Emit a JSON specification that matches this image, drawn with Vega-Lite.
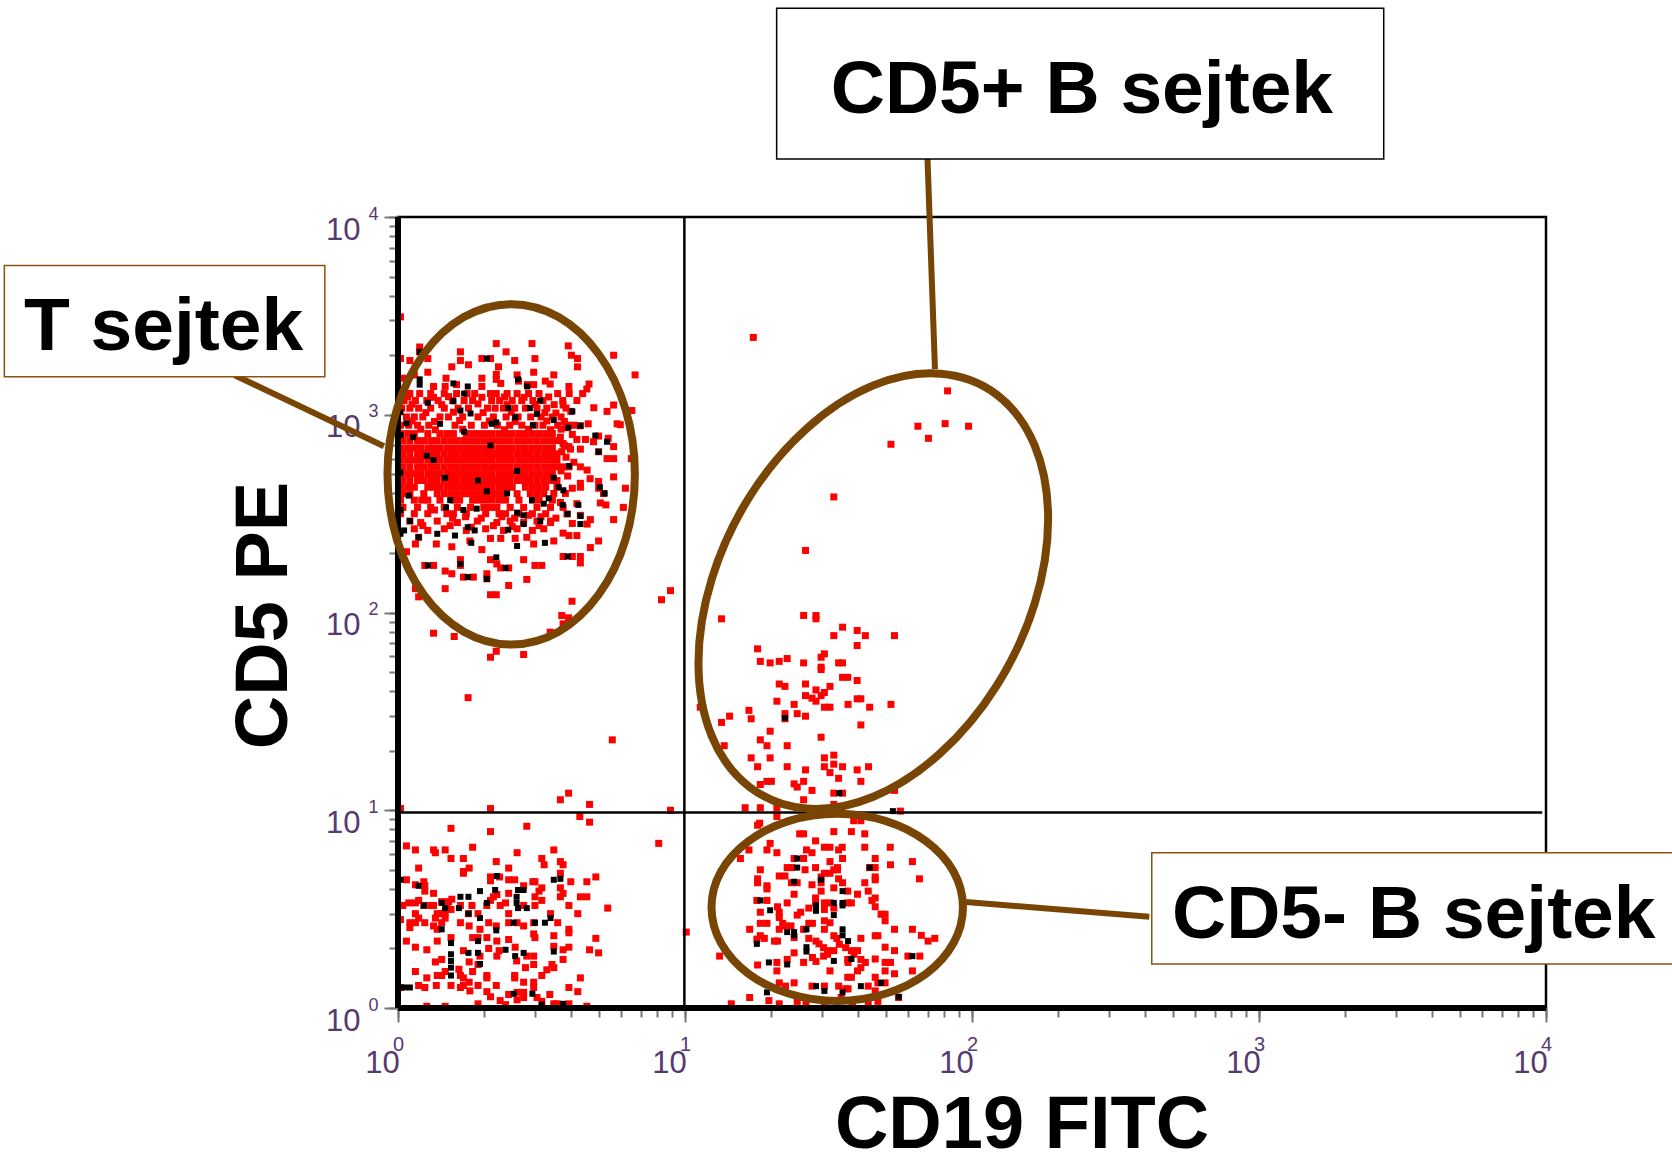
{"$schema":"https://vega.github.io/schema/vega-lite/v6.json","width":1148,"height":791,"autosize":{"type":"none"},"padding":{"left":398,"top":217,"right":126,"bottom":152},"background":"white","config":{"view":{"stroke":"#000","strokeWidth":2.5},"font":"Liberation Sans"},
"datasets":{
"red":[
{"x":1.02,"y":10.2},{"x":2.1,"y":10.2},{"x":2.81,"y":8.3},{"x":2.1,"y":7.8},{"x":1.53,"y":8.1},{"x":3.68,"y":11.3},{"x":3.93,"y":12.2},{"x":4.65,"y":10.7},{"x":4.3,"y":9.3},{"x":4.65,"y":8.7},{"x":8.9,"y":10},{"x":8.1,"y":6.8},{"x":1.07,"y":6.6},{"x":1.15,"y":6.3},{"x":1.33,"y":6.3},{"x":1.35,"y":6.1},{"x":1.46,"y":6.3},{"x":1.82,"y":6.5},{"x":1.53,"y":5.7},{"x":1.69,"y":5.7},{"x":2.6,"y":6.1},{"x":2.2,"y":5.5},{"x":3.49,"y":6.3},{"x":3.17,"y":5.7},{"x":3.23,"y":5.3},{"x":3.68,"y":5.5},{"x":3.76,"y":5.3},{"x":2.43,"y":5.1},{"x":1.18,"y":5.1},{"x":1.77,"y":5.1},{"x":1.69,"y":4.9},{"x":1.69,"y":4.8},{"x":3.68,"y":4.8},{"x":4.89,"y":4.6},{"x":4,"y":4.35},{"x":4.55,"y":4.35},{"x":2.1,"y":4.6},{"x":2.26,"y":4.6},{"x":2.43,"y":4.45},{"x":2.55,"y":4.45},{"x":1.07,"y":4.45},{"x":2.1,"y":4.4},{"x":2.95,"y":4.35},{"x":3,"y":4.35},{"x":1.23,"y":4.35},{"x":1.24,"y":4.15},{"x":1.15,"y":4.2},{"x":2.74,"y":4.15},{"x":3.17,"y":4.05},{"x":3.68,"y":4.05},{"x":3.1,"y":3.9},{"x":3.76,"y":3.8},{"x":3.68,"y":3.65},{"x":4.32,"y":3.65},{"x":4.55,"y":3.65},{"x":3.17,"y":3.5},{"x":1.33,"y":3.8},{"x":1.24,"y":3.9},{"x":2.43,"y":3.8},{"x":3,"y":3.65},{"x":3.94,"y":3.3},{"x":5.38,"y":3.2},{"x":4.23,"y":3},{"x":1.04,"y":3.3},{"x":1.09,"y":3.4},{"x":1.15,"y":3.4},{"x":1.18,"y":3.5},{"x":1.23,"y":3.3},{"x":1.3,"y":3.3},{"x":1.33,"y":3.3},{"x":1.42,"y":3.45},{"x":1.5,"y":3.45},{"x":1.54,"y":3.55},{"x":1.48,"y":3.3},{"x":1.65,"y":3.3},{"x":1.53,"y":3.15},{"x":1.46,"y":3.05},{"x":1.42,"y":3},{"x":1.37,"y":3},{"x":1.35,"y":2.85},{"x":1.46,"y":2.85},{"x":1.42,"y":2.7},{"x":1.81,"y":3.3},{"x":2.15,"y":3.65},{"x":2.21,"y":3.75},{"x":2.1,"y":3.5},{"x":2.04,"y":3.3},{"x":2.27,"y":3.3},{"x":2.37,"y":3.4},{"x":2.74,"y":3.3},{"x":3,"y":3.3},{"x":1.02,"y":2.8},{"x":1.15,"y":3},{"x":1.18,"y":2.85},{"x":1.1,"y":2.7},{"x":1.1,"y":2.55},{"x":1.15,"y":2.7},{"x":1.24,"y":2.7},{"x":1.33,"y":2.6},{"x":1.37,"y":2.5},{"x":1.65,"y":2.7},{"x":1.77,"y":2.6},{"x":1.76,"y":3},{"x":1.9,"y":3},{"x":2.07,"y":2.7},{"x":2.43,"y":3},{"x":2.43,"y":2.7},{"x":2.6,"y":2.7},{"x":2.74,"y":2.6},{"x":3.6,"y":2.7},{"x":3.4,"y":3},{"x":2.97,"y":2.7},{"x":2.2,"y":2.6},{"x":1.93,"y":2.5},{"x":1.9,"y":2.27},{"x":2.04,"y":2.27},{"x":1.82,"y":2.27},{"x":1.53,"y":2.27},{"x":1.37,"y":2.18},{"x":1.07,"y":2.18},{"x":1.15,"y":2.03},{"x":1.26,"y":1.97},{"x":2.97,"y":2.37},{"x":3,"y":2.27},{"x":3.49,"y":2.32},{"x":3.94,"y":2.5},{"x":3.94,"y":2.4},{"x":4.89,"y":2.25},{"x":2.21,"y":2.18},{"x":2.43,"y":2.22},{"x":2.56,"y":2.03},{"x":2.07,"y":2},{"x":2.25,"y":1.95},{"x":1.69,"y":1.95},{"x":3.49,"y":2.05},{"x":3.94,"y":2.03},{"x":3.76,"y":1.97},{"x":4.65,"y":1.97},{"x":5,"y":1.9},{"x":2.21,"y":1.83},{"x":2.59,"y":1.73},{"x":2.81,"y":1.83},{"x":2.97,"y":1.83},{"x":3.76,"y":1.76},{"x":1.93,"y":1.83},{"x":1.9,"y":1.66},{"x":1.77,"y":1.71},{"x":1.42,"y":1.76},{"x":1.35,"y":1.71},{"x":2.78,"y":1.6},{"x":2.97,"y":1.66},{"x":3.44,"y":1.66},{"x":3.49,"y":1.6},{"x":1.15,"y":1.53},{"x":1.26,"y":1.42},{"x":1.37,"y":1.46},{"x":1.42,"y":1.46},{"x":1.46,"y":1.53},{"x":1.63,"y":1.57},{"x":1.65,"y":1.46},{"x":1.69,"y":1.42},{"x":1.82,"y":1.53},{"x":2.04,"y":1.46},{"x":2.04,"y":1.42},{"x":2.55,"y":1.46},{"x":2.55,"y":1.42},{"x":3.17,"y":1.46},{"x":3.3,"y":1.56},{"x":4.32,"y":1.42},{"x":1.02,"y":1.27},{"x":1.18,"y":1.3},{"x":1.24,"y":1.27},{"x":1.36,"y":1.3},{"x":1.53,"y":1.3},{"x":1.65,"y":1.27},{"x":1.69,"y":1.3},{"x":1.77,"y":1.35},{"x":1.78,"y":1.22},{"x":1.9,"y":1.3},{"x":2.2,"y":1.3},{"x":2.74,"y":1.35},{"x":2.97,"y":1.35},{"x":2.97,"y":1.27},{"x":3.94,"y":1.27},{"x":4.23,"y":1.21},{"x":3.38,"y":1.17},{"x":2.04,"y":1.21},{"x":2.1,"y":1.14},{"x":2.27,"y":1.09},{"x":2.43,"y":1.17},{"x":2.6,"y":1.2},{"x":2.74,"y":1.2},{"x":2.74,"y":1.13},{"x":2.6,"y":1.1},{"x":2.37,"y":1.04},{"x":1.9,"y":1.05},{"x":1.26,"y":1.02},{"x":1.46,"y":1.02},{"x":3.05,"y":1.13},{"x":3.17,"y":1.08},{"x":3.49,"y":1.05},{"x":3.58,"y":1.05},{"x":3.94,"y":1.05},{"x":4.55,"y":1.02},
{"x":16.2,"y":10.3},{"x":18.3,"y":10.3},{"x":20.9,"y":10.3},{"x":20.9,"y":9.3},{"x":18.2,"y":8.6},{"x":17.9,"y":8.4},{"x":56.3,"y":9.9},{"x":38.7,"y":8.85},{"x":41,"y":8.85},{"x":25.1,"y":7.6},{"x":25.9,"y":7.6},{"x":33,"y":7.8},{"x":38,"y":7.8},{"x":42.3,"y":7.6},{"x":28.5,"y":7},{"x":30.6,"y":6.5},{"x":32,"y":6.5},{"x":35.3,"y":6.5},{"x":34.3,"y":6.3},{"x":42.3,"y":6.5},{"x":51.9,"y":6.5},{"x":19.8,"y":6.8},{"x":19.3,"y":6.3},{"x":20.9,"y":6.1},{"x":16.7,"y":6.3},{"x":15.6,"y":5.7},{"x":26.5,"y":6.3},{"x":27.7,"y":6.1},{"x":24,"y":5.7},{"x":25.9,"y":5.7},{"x":35.4,"y":5.7},{"x":32,"y":5.5},{"x":46,"y":5.7},{"x":62,"y":5.5},{"x":52,"y":5.3},{"x":65.6,"y":4.5},{"x":18.3,"y":5},{"x":22.7,"y":5.13},{"x":23.5,"y":5.13},{"x":26.2,"y":5},{"x":28.5,"y":5.13},{"x":34,"y":5.13},{"x":33,"y":5},{"x":34,"y":5},{"x":32,"y":4.8},{"x":30.6,"y":4.8},{"x":29.8,"y":4.6},{"x":46,"y":5.13},{"x":44,"y":5.13},{"x":46,"y":4.6},{"x":46,"y":4.45},{"x":17.9,"y":4.5},{"x":17.9,"y":4.3},{"x":21.3,"y":4.65},{"x":22.3,"y":4.65},{"x":23.5,"y":4.3},{"x":24.6,"y":4.3},{"x":19.3,"y":4.15},{"x":19.3,"y":4},{"x":27.7,"y":4.2},{"x":29.8,"y":4.3},{"x":34.3,"y":4.5},{"x":35.4,"y":4.3},{"x":33,"y":4.05},{"x":29.8,"y":3.9},{"x":24,"y":3.76},{"x":36.9,"y":3.9},{"x":39.9,"y":3.76},{"x":42.3,"y":4.3},{"x":43.5,"y":3.9},{"x":46,"y":3.6},{"x":44.8,"y":3.5},{"x":46,"y":3.25},{"x":17.8,"y":3.5},{"x":19.3,"y":3.5},{"x":22.7,"y":3.4},{"x":28.5,"y":3.6},{"x":28.5,"y":3.4},{"x":30.6,"y":3.4},{"x":32,"y":3.4},{"x":38,"y":3.4},{"x":36.9,"y":3.4},{"x":27,"y":3.2},{"x":25.3,"y":3.05},{"x":24.6,"y":2.95},{"x":18.3,"y":3.05},{"x":21,"y":3.25},{"x":21.3,"y":3.05},{"x":30.6,"y":3.15},{"x":33,"y":3.2},{"x":48.2,"y":2.98},{"x":49.8,"y":2.98},{"x":49.8,"y":2.76},{"x":30.6,"y":2.76},{"x":32,"y":2.7},{"x":21.3,"y":2.87},{"x":21.9,"y":2.68},{"x":18.3,"y":2.68},{"x":19.3,"y":2.68},{"x":27,"y":2.68},{"x":27.8,"y":2.68},{"x":22.4,"y":2.6},{"x":23.4,"y":2.6},{"x":16.8,"y":2.5},{"x":21.3,"y":2.5},{"x":25.9,"y":2.5},{"x":30.6,"y":2.5},{"x":53.7,"y":2.5},{"x":62,"y":2.5},{"x":10.1,"y":2.42},{"x":18.3,"y":2.32},{"x":33,"y":2.32},{"x":33.8,"y":2.25},{"x":24,"y":2.27},{"x":46,"y":2.32},{"x":47,"y":2.32},{"x":41,"y":2.25},{"x":66.6,"y":2.33},{"x":70.3,"y":2.18},{"x":74.2,"y":2.25},{"x":18.9,"y":2.25},{"x":20.5,"y":2.18},{"x":21,"y":2.18},{"x":27,"y":2.25},{"x":28.6,"y":2.18},{"x":17.8,"y":2.23},{"x":29.3,"y":2.11},{"x":30.4,"y":2.02},{"x":31.4,"y":1.95},{"x":33,"y":1.95},{"x":34.5,"y":2.1},{"x":36.3,"y":2.02},{"x":38,"y":1.95},{"x":39.9,"y":1.95},{"x":38.8,"y":1.87},{"x":49.8,"y":2.03},{"x":53.7,"y":1.95},{"x":24,"y":1.9},{"x":30.4,"y":1.83},{"x":31.4,"y":1.87},{"x":13.2,"y":1.83},{"x":36.9,"y":1.76},{"x":41,"y":1.76},{"x":46,"y":1.77},{"x":42.5,"y":1.7},{"x":27.8,"y":1.8},{"x":28.6,"y":1.72},{"x":25.9,"y":1.7},{"x":49.8,"y":1.7},{"x":52,"y":1.7},{"x":65.8,"y":1.83},{"x":59.8,"y":1.83},{"x":20.9,"y":1.7},{"x":17.9,"y":1.65},{"x":22.7,"y":1.76},{"x":37,"y":1.7},{"x":41,"y":1.6},{"x":39.9,"y":1.54},{"x":32,"y":1.54},{"x":20.9,"y":1.54},{"x":49.8,"y":1.54},{"x":62,"y":1.54},{"x":53.7,"y":1.49},{"x":36.9,"y":1.43},{"x":38,"y":1.43},{"x":46,"y":1.43},{"x":21.3,"y":1.34},{"x":22.4,"y":1.29},{"x":24,"y":1.34},{"x":27.7,"y":1.29},{"x":30.6,"y":1.29},{"x":34.3,"y":1.29},{"x":37,"y":1.25},{"x":36.3,"y":1.25},{"x":43.5,"y":1.29},{"x":49.8,"y":1.34},{"x":47,"y":1.34},{"x":46,"y":1.22},{"x":16.8,"y":1.13},{"x":14.5,"y":1.05},{"x":19.6,"y":1.09},{"x":21.3,"y":1.05},{"x":24.6,"y":1.08},{"x":26.4,"y":1.04},{"x":30.6,"y":1.06},{"x":35,"y":1.13},{"x":38.3,"y":1.04},{"x":43.5,"y":1.04},{"x":47,"y":1.08},{"x":55.5,"y":1.13},
{"x":17.3,"y":2460},{"x":82.2,"y":1320},{"x":64.8,"y":875},{"x":80.6,"y":902},{"x":97.3,"y":875},{"x":70.5,"y":760},{"x":52.2,"y":709},{"x":33,"y":384},{"x":26.3,"y":206},{"x":13.4,"y":92.9},{"x":25.9,"y":96.6},{"x":28.6,"y":96.6},{"x":28.6,"y":92.9},{"x":35.4,"y":84.3},{"x":39.8,"y":81.1},{"x":33,"y":76.4},{"x":42.5,"y":76.4},{"x":53.7,"y":76.4},{"x":39.8,"y":68.1},{"x":17.9,"y":65.5},{"x":30.6,"y":61.8},{"x":29.8,"y":59.4},{"x":18.3,"y":56.6},{"x":19.8,"y":55.6},{"x":21.3,"y":56.6},{"x":22.7,"y":58.5},{"x":25.9,"y":55.6},{"x":34.3,"y":55.6},{"x":35.4,"y":55.6},{"x":29.8,"y":52.9},{"x":29.8,"y":51.5},{"x":35.4,"y":47},{"x":36.9,"y":47},{"x":39.8,"y":45.3},{"x":21.3,"y":43.5},{"x":22.3,"y":42.3},{"x":26.3,"y":43.5},{"x":32,"y":42.3},{"x":28.6,"y":40.6},{"x":30.6,"y":39.4},{"x":29.8,"y":38},{"x":26.3,"y":38},{"x":27.7,"y":36.9},{"x":28.6,"y":35.6},{"x":39.8,"y":36.6},{"x":41,"y":36.6},{"x":20.9,"y":35.6},{"x":24,"y":34.3},{"x":37,"y":34.3},{"x":52.2,"y":34.3},{"x":30.6,"y":33.2},{"x":32,"y":33.2},{"x":44,"y":33.2},{"x":11.3,"y":33.2},{"x":16.7,"y":32},{"x":14.3,"y":29.9},{"x":24.6,"y":30.8},{"x":22.3,"y":30.8},{"x":26.3,"y":29.9},{"x":17,"y":29},{"x":22.3,"y":29},{"x":13.4,"y":27.8},{"x":41,"y":27},{"x":19.8,"y":25.1},{"x":18.3,"y":22.7},{"x":29.8,"y":23.4},{"x":13.7,"y":21.2},{"x":19.3,"y":21.2},{"x":22.7,"y":21.2},{"x":17,"y":18.4},{"x":19.8,"y":18.4},{"x":30.6,"y":18.4},{"x":33,"y":19},{"x":17.9,"y":16.6},{"x":22.7,"y":16.6},{"x":30.6,"y":16.6},{"x":33,"y":17.1},{"x":35.4,"y":16.6},{"x":26.3,"y":16},{"x":39.8,"y":16},{"x":43.6,"y":16.6},{"x":32,"y":15.5},{"x":34.3,"y":14.5},{"x":41,"y":14},{"x":18.3,"y":13.5},{"x":19.3,"y":14},{"x":20,"y":14},{"x":24,"y":13.6},{"x":24.6,"y":13.1},{"x":25.9,"y":14},{"x":27.7,"y":12.6},{"x":33,"y":12.2},{"x":35.4,"y":12.2},{"x":25.9,"y":11.3},{"x":53.7,"y":12.6},{"x":33,"y":10.7},
{"x":5.58,"y":22.7},{"x":1.755,"y":37.1},{"x":8.9,"y":129},{"x":8.28,"y":116},{"x":1.33,"y":78.6},{"x":1.57,"y":75.6},{"x":2.2,"y":63.7},{"x":2.1,"y":59.4},{"x":2.74,"y":61.3},{"x":4.04,"y":114},{"x":3.72,"y":96.6},{"x":3.76,"y":87.6},{"x":3.93,"y":94},{"x":3.39,"y":79.5},{"x":1.18,"y":120},{"x":1.15,"y":132},
{"x":1.02,"y":3127},{"x":1.19,"y":2200},{"x":1.02,"y":1924},{"x":1.1,"y":1880},{"x":1.19,"y":2081},{"x":1.27,"y":1924},{"x":1.65,"y":2081},{"x":1.65,"y":1880},{"x":1.76,"y":1790},{"x":1.54,"y":1747},{"x":2.2,"y":2291},{"x":2.38,"y":2081},{"x":2.55,"y":1880},{"x":1.96,"y":1924},{"x":2.1,"y":1924},{"x":2.93,"y":2291},{"x":3,"y":1924},{"x":3.92,"y":2230},{"x":4.02,"y":2000},{"x":4.22,"y":1924},{"x":4.22,"y":1747},{"x":5.64,"y":2000},{"x":6.7,"y":1590},{"x":2.24,"y":1747},{"x":2.97,"y":1640},{"x":3.49,"y":1590},{"x":1.27,"y":1640},{"x":2.2,"y":1600},{"x":1.47,"y":1530},{"x":1.96,"y":1530},{"x":2.6,"y":1590},{"x":2.2,"y":1510},{"x":3.26,"y":1480},{"x":3.39,"y":1430},{"x":3.94,"y":1390},{"x":4.63,"y":1430},{"x":4.55,"y":1350},{"x":1.14,"y":1590},{"x":1.04,"y":1530},{"x":1.33,"y":1390},{"x":1.46,"y":1390},{"x":1.6,"y":1420},{"x":1.96,"y":1390},{"x":2.28,"y":1440},{"x":2.63,"y":1480},{"x":2.82,"y":1420},{"x":2.97,"y":1420},
{"x":1.1,"y":1280},{"x":1.19,"y":1280},{"x":1.3,"y":1280},{"x":1.45,"y":1280},{"x":1.6,"y":1280},{"x":1.74,"y":1280},{"x":1.85,"y":1280},{"x":2.1,"y":1280},{"x":2.2,"y":1280},{"x":2.4,"y":1280},{"x":2.6,"y":1280},{"x":2.85,"y":1280},{"x":3.1,"y":1280},{"x":3.6,"y":1280},{"x":3.95,"y":1280},{"x":4.4,"y":1280},
{"x":1.05,"y":1180},{"x":1.15,"y":1180},{"x":1.26,"y":1180},{"x":1.38,"y":1180},{"x":1.55,"y":1180},{"x":1.7,"y":1180},{"x":1.82,"y":1180},{"x":2.12,"y":1180},{"x":2.26,"y":1180},{"x":2.5,"y":1180},{"x":2.7,"y":1180},{"x":2.95,"y":1180},{"x":3.2,"y":1180},{"x":3.75,"y":1180},{"x":4.2,"y":1180},
{"x":1.03,"y":1080},{"x":1.1,"y":1080},{"x":1.18,"y":1080},{"x":1.3,"y":1080},{"x":1.45,"y":1080},{"x":1.62,"y":1080},{"x":1.76,"y":1080},{"x":2.05,"y":1080},{"x":2.18,"y":1080},{"x":2.33,"y":1080},{"x":2.55,"y":1080},{"x":2.78,"y":1080},{"x":3.05,"y":1080},{"x":3.3,"y":1080},{"x":3.85,"y":1080},
{"x":1.07,"y":975},{"x":1.14,"y":975},{"x":1.22,"y":975},{"x":1.4,"y":975},{"x":1.5,"y":975},{"x":1.68,"y":975},{"x":1.9,"y":975},{"x":2.15,"y":975},{"x":2.38,"y":975},{"x":2.62,"y":975},{"x":2.9,"y":975},{"x":3.15,"y":975},{"x":3.45,"y":975},{"x":3.7,"y":975},
{"x":1.02,"y":885},{"x":1.09,"y":885},{"x":1.17,"y":885},{"x":1.28,"y":885},{"x":1.58,"y":885},{"x":1.8,"y":885},{"x":2,"y":885},{"x":2.22,"y":885},{"x":2.45,"y":885},{"x":2.7,"y":885},{"x":3,"y":885},{"x":3.2,"y":885},{"x":3.6,"y":885},{"x":3.95,"y":885},{"x":4.1,"y":885},
{"x":1.02,"y":803},{"x":1.08,"y":803},{"x":1.14,"y":803},{"x":1.27,"y":803},{"x":1.4,"y":803},{"x":1.48,"y":803},{"x":1.56,"y":803},{"x":1.73,"y":803},{"x":1.82,"y":803},{"x":1.92,"y":803},{"x":2.02,"y":803},{"x":2.13,"y":803},{"x":2.25,"y":803},{"x":2.37,"y":803},{"x":2.5,"y":803},{"x":2.64,"y":803},{"x":2.78,"y":803},{"x":2.94,"y":803},{"x":3.1,"y":803},{"x":3.27,"y":803},{"x":3.45,"y":803},
{"x":1.04,"y":740},{"x":1.1,"y":740},{"x":1.17,"y":740},{"x":1.23,"y":740},{"x":1.3,"y":740},{"x":1.37,"y":740},{"x":1.45,"y":740},{"x":1.53,"y":740},{"x":1.61,"y":740},{"x":1.7,"y":740},{"x":1.79,"y":740},{"x":1.89,"y":740},{"x":1.99,"y":740},{"x":2.1,"y":740},{"x":2.21,"y":740},{"x":2.33,"y":740},{"x":2.46,"y":740},{"x":2.6,"y":740},{"x":2.74,"y":740},{"x":2.89,"y":740},{"x":3.05,"y":740},{"x":3.22,"y":740},{"x":3.4,"y":740},{"x":3.58,"y":740},
{"x":1.02,"y":680},{"x":1.08,"y":680},{"x":1.14,"y":680},{"x":1.2,"y":680},{"x":1.27,"y":680},{"x":1.33,"y":680},{"x":1.4,"y":680},{"x":1.48,"y":680},{"x":1.56,"y":680},{"x":1.64,"y":680},{"x":1.73,"y":680},{"x":1.82,"y":680},{"x":1.92,"y":680},{"x":2.02,"y":680},{"x":2.13,"y":680},{"x":2.25,"y":680},{"x":2.37,"y":680},{"x":2.5,"y":680},{"x":2.64,"y":680},{"x":2.78,"y":680},{"x":2.94,"y":680},{"x":3.1,"y":680},{"x":3.27,"y":680},{"x":3.45,"y":680},
{"x":1.04,"y":635},{"x":1.1,"y":635},{"x":1.17,"y":635},{"x":1.23,"y":635},{"x":1.3,"y":635},{"x":1.37,"y":635},{"x":1.45,"y":635},{"x":1.53,"y":635},{"x":1.61,"y":635},{"x":1.7,"y":635},{"x":1.79,"y":635},{"x":1.89,"y":635},{"x":1.99,"y":635},{"x":2.1,"y":635},{"x":2.21,"y":635},{"x":2.33,"y":635},{"x":2.46,"y":635},{"x":2.6,"y":635},{"x":2.74,"y":635},{"x":2.89,"y":635},{"x":3.05,"y":635},{"x":3.22,"y":635},{"x":3.4,"y":635},{"x":3.58,"y":635},
{"x":1.02,"y":590},{"x":1.08,"y":590},{"x":1.14,"y":590},{"x":1.2,"y":590},{"x":1.27,"y":590},{"x":1.33,"y":590},{"x":1.4,"y":590},{"x":1.48,"y":590},{"x":1.56,"y":590},{"x":1.64,"y":590},{"x":1.73,"y":590},{"x":1.82,"y":590},{"x":1.92,"y":590},{"x":2.02,"y":590},{"x":2.13,"y":590},{"x":2.25,"y":590},{"x":2.37,"y":590},{"x":2.5,"y":590},{"x":2.64,"y":590},{"x":2.78,"y":590},{"x":2.94,"y":590},{"x":3.1,"y":590},{"x":3.27,"y":590},{"x":3.45,"y":590},
{"x":1.04,"y":545},{"x":1.1,"y":545},{"x":1.17,"y":545},{"x":1.23,"y":545},{"x":1.3,"y":545},{"x":1.37,"y":545},{"x":1.45,"y":545},{"x":1.53,"y":545},{"x":1.61,"y":545},{"x":1.7,"y":545},{"x":1.79,"y":545},{"x":1.89,"y":545},{"x":1.99,"y":545},{"x":2.1,"y":545},{"x":2.21,"y":545},{"x":2.33,"y":545},{"x":2.46,"y":545},{"x":2.6,"y":545},{"x":2.74,"y":545},{"x":2.89,"y":545},{"x":3.05,"y":545},{"x":3.22,"y":545},{"x":3.4,"y":545},{"x":3.58,"y":545},
{"x":1.02,"y":504},{"x":1.08,"y":504},{"x":1.14,"y":504},{"x":1.2,"y":504},{"x":1.27,"y":504},{"x":1.33,"y":504},{"x":1.4,"y":504},{"x":1.48,"y":504},{"x":1.56,"y":504},{"x":1.64,"y":504},{"x":1.73,"y":504},{"x":1.82,"y":504},{"x":1.92,"y":504},{"x":2.02,"y":504},{"x":2.13,"y":504},{"x":2.25,"y":504},{"x":2.37,"y":504},{"x":2.5,"y":504},{"x":2.64,"y":504},{"x":2.78,"y":504},{"x":2.94,"y":504},{"x":3.1,"y":504},{"x":3.27,"y":504},{"x":3.45,"y":504},
{"x":1.04,"y":465},{"x":1.1,"y":465},{"x":1.17,"y":465},{"x":1.23,"y":465},{"x":1.3,"y":465},{"x":1.37,"y":465},{"x":1.45,"y":465},{"x":1.53,"y":465},{"x":1.61,"y":465},{"x":1.7,"y":465},{"x":1.79,"y":465},{"x":1.89,"y":465},{"x":1.99,"y":465},{"x":2.1,"y":465},{"x":2.21,"y":465},{"x":2.33,"y":465},{"x":2.46,"y":465},{"x":2.6,"y":465},{"x":2.74,"y":465},{"x":2.89,"y":465},{"x":3.05,"y":465},{"x":3.22,"y":465},{"x":3.4,"y":465},
{"x":1.02,"y":430},{"x":1.08,"y":430},{"x":1.14,"y":430},{"x":1.27,"y":430},{"x":1.33,"y":430},{"x":1.4,"y":430},{"x":1.48,"y":430},{"x":1.56,"y":430},{"x":1.64,"y":430},{"x":1.73,"y":430},{"x":1.82,"y":430},{"x":1.92,"y":430},{"x":2.02,"y":430},{"x":2.13,"y":430},{"x":2.25,"y":430},{"x":2.37,"y":430},{"x":2.5,"y":430},{"x":2.78,"y":430},{"x":2.94,"y":430},{"x":3.1,"y":430},{"x":3.27,"y":430},
{"x":1.04,"y":399},{"x":1.1,"y":399},{"x":1.23,"y":399},{"x":1.37,"y":399},{"x":1.45,"y":399},{"x":1.53,"y":399},{"x":1.61,"y":399},{"x":1.7,"y":399},{"x":1.79,"y":399},{"x":1.89,"y":399},{"x":1.99,"y":399},{"x":2.1,"y":399},{"x":2.21,"y":399},{"x":2.33,"y":399},{"x":2.6,"y":399},{"x":2.89,"y":399},{"x":3.05,"y":399},{"x":3.22,"y":399},
{"x":1.02,"y":370},{"x":1.14,"y":370},{"x":1.27,"y":370},{"x":1.4,"y":370},{"x":1.56,"y":370},{"x":1.64,"y":370},{"x":1.82,"y":370},{"x":1.92,"y":370},{"x":2.02,"y":370},{"x":2.13,"y":370},{"x":2.25,"y":370},{"x":2.37,"y":370},{"x":2.64,"y":370},{"x":2.94,"y":370},{"x":3.1,"y":370},
{"x":1.04,"y":340},{"x":1.17,"y":340},{"x":1.3,"y":340},{"x":1.45,"y":340},{"x":1.61,"y":340},{"x":1.79,"y":340},{"x":1.99,"y":340},{"x":2.1,"y":340},{"x":2.21,"y":340},{"x":2.46,"y":340},{"x":2.74,"y":340},{"x":3.05,"y":340},{"x":3.4,"y":340},
{"x":1.02,"y":316},{"x":1.14,"y":316},{"x":1.27,"y":316},{"x":1.48,"y":316},{"x":1.56,"y":316},{"x":1.73,"y":316},{"x":2.02,"y":316},{"x":2.25,"y":316},{"x":2.37,"y":316},{"x":2.64,"y":316},{"x":2.94,"y":316},{"x":3.27,"y":316},
{"x":1.1,"y":290},{"x":1.2,"y":285},{"x":1.37,"y":290},{"x":1.61,"y":285},{"x":1.89,"y":290},{"x":2.21,"y":285},{"x":2.46,"y":290},{"x":2.74,"y":285},{"x":3.05,"y":290},{"x":3.4,"y":285},
{"x":1.14,"y":265},{"x":1.27,"y":260},{"x":1.45,"y":265},{"x":1.73,"y":260},{"x":2.02,"y":265},{"x":2.33,"y":260},{"x":2.6,"y":265},{"x":2.94,"y":260},{"x":3.22,"y":265},
{"x":1.08,"y":1230},{"x":1.33,"y":1225},{"x":1.5,"y":1235},{"x":1.96,"y":1225},{"x":2.35,"y":1230},{"x":2.75,"y":1225},{"x":3.35,"y":1230},{"x":1.12,"y":1130},{"x":1.42,"y":1125},{"x":1.9,"y":1135},{"x":2.4,"y":1125},{"x":3,"y":1130},{"x":3.5,"y":1125},{"x":1.25,"y":1025},{"x":1.56,"y":1030},{"x":1.98,"y":1025},{"x":2.48,"y":1030},{"x":3.25,"y":1025},{"x":3.55,"y":1020},{"x":1.12,"y":930},{"x":1.34,"y":925},{"x":1.64,"y":935},{"x":2.08,"y":930},{"x":2.56,"y":925},{"x":3.3,"y":930},{"x":3.8,"y":925},{"x":1.2,"y":845},{"x":1.35,"y":840},{"x":1.68,"y":845},{"x":2.35,"y":840},{"x":2.85,"y":845},{"x":3.4,"y":840},{"x":3.7,"y":845},{"x":3.68,"y":770},{"x":3.8,"y":700},{"x":3.72,"y":650},{"x":3.85,"y":610},{"x":3.7,"y":520},{"x":3.9,"y":490},{"x":3.58,"y":430},{"x":3.45,"y":370},{"x":1.21,"y":370},{"x":1.34,"y":330},{"x":1.55,"y":300},{"x":1.72,"y":305},{"x":1.95,"y":300},{"x":2.3,"y":305},{"x":2.55,"y":300},{"x":2.85,"y":310},{"x":3.15,"y":305},{"x":3.55,"y":300},{"x":1.22,"y":275},{"x":1.52,"y":275},{"x":1.8,"y":270},{"x":2.15,"y":275},{"x":2.5,"y":272},{"x":3.1,"y":275},
{"x":1.18,"y":240},{"x":1.15,"y":222},{"x":1.07,"y":203},{"x":1.36,"y":222},{"x":1.54,"y":215},{"x":1.78,"y":230},{"x":1.96,"y":208},{"x":2.1,"y":237},{"x":2.28,"y":237},{"x":2.56,"y":237},{"x":2.81,"y":240},{"x":2.97,"y":222},{"x":3.49,"y":230},{"x":3.76,"y":252},{"x":3.94,"y":245},{"x":4.2,"y":245},{"x":5,"y":230},{"x":4.68,"y":213},{"x":3.76,"y":192},{"x":4.05,"y":192},{"x":4.32,"y":192},{"x":4.32,"y":178},{"x":2.74,"y":185},{"x":2.1,"y":185},{"x":3,"y":173},{"x":3.17,"y":173},{"x":1.65,"y":185},{"x":1.65,"y":173},{"x":1.24,"y":173},{"x":1.33,"y":173},{"x":1.46,"y":162},{"x":1.54,"y":157},{"x":1.69,"y":151},{"x":1.83,"y":151},{"x":2.04,"y":157},{"x":2.04,"y":148},{"x":2.21,"y":176},{"x":2.28,"y":168},{"x":2.43,"y":168},{"x":2.43,"y":137},{"x":2.81,"y":147},{"x":1.46,"y":132},{"x":2.1,"y":123},{"x":2.2,"y":123},
{"x":4.81,"y":1085},{"x":5.35,"y":1040},{"x":5.64,"y":1120},{"x":6.53,"y":1050},{"x":5.95,"y":890},{"x":5.8,"y":900},{"x":4.32,"y":880},{"x":4.6,"y":900},{"x":4,"y":1040},{"x":3.76,"y":1120},{"x":5,"y":780},{"x":5.4,"y":760},{"x":5.64,"y":690},{"x":5.35,"y":600},{"x":5.64,"y":600},{"x":6.5,"y":600},{"x":5,"y":650},{"x":4.2,"y":750},{"x":4.5,"y":750},{"x":4.8,"y":730},{"x":4.32,"y":670},{"x":3.99,"y":670},{"x":4.1,"y":575},{"x":4.32,"y":545},{"x":4.56,"y":525},{"x":5.64,"y":485},{"x":4.67,"y":475},{"x":5,"y":460},{"x":6.2,"y":425},{"x":5,"y":425},{"x":5.2,"y":400},{"x":4.32,"y":450},{"x":4.05,"y":425},{"x":3.83,"y":400},{"x":4.2,"y":355},{"x":5.07,"y":358},{"x":5.3,"y":350},{"x":6.1,"y":340},{"x":5.64,"y":295},{"x":4.68,"y":295},{"x":4.32,"y":310},{"x":4.05,"y":282},{"x":3.76,"y":340},{"x":3.68,"y":360},{"x":3.88,"y":315},{"x":3.49,"y":400},{"x":3.58,"y":465},{"x":3.76,"y":545},{"x":3.94,"y":545},{"x":3.58,"y":590},{"x":3.94,"y":690},{"x":3.76,"y":715},{"x":4.05,"y":795},{"x":3.84,"y":860},{"x":4.32,"y":430},{"x":4.56,"y":280},{"x":3.4,"y":290}
],
"black":[
{"x":1.02,"y":4.45},{"x":1.18,"y":4.15},{"x":2.21,"y":4.65},{"x":3.49,"y":4.45},{"x":3.68,"y":4.5},{"x":1.93,"y":3.9},{"x":2.18,"y":3.95},{"x":2.62,"y":3.95},{"x":2.74,"y":3.95},{"x":2.59,"y":3.65},{"x":2.59,"y":3.4},{"x":2.62,"y":3.2},{"x":2.81,"y":3.2},{"x":1.65,"y":3.65},{"x":1.76,"y":3.65},{"x":1.42,"y":3.4},{"x":1.46,"y":3.2},{"x":1.63,"y":3.2},{"x":1.23,"y":3.3},{"x":2.04,"y":3.4},{"x":1.76,"y":3},{"x":1.93,"y":2.85},{"x":2.53,"y":2.7},{"x":3,"y":2.7},{"x":3.25,"y":2.7},{"x":3.4,"y":2.85},{"x":1.42,"y":2.5},{"x":2.2,"y":2.47},{"x":1.53,"y":2.13},{"x":1.9,"y":2.18},{"x":1.76,"y":1.9},{"x":1.9,"y":1.9},{"x":2.37,"y":1.97},{"x":2.56,"y":1.83},{"x":2.74,"y":1.9},{"x":3.49,"y":1.93},{"x":1.53,"y":1.87},{"x":1.53,"y":1.73},{"x":1.53,"y":1.6},{"x":1.53,"y":1.46},{"x":1.93,"y":1.67},{"x":1.05,"y":1.27},{"x":1.1,"y":1.27},{"x":2.53,"y":1.18},{"x":2.94,"y":1.18},{"x":3.17,"y":1.04},{"x":3.76,"y":1.05},
{"x":53,"y":9.9},{"x":24.6,"y":5.7},{"x":24.6,"y":5.13},{"x":44,"y":5.13},{"x":24,"y":4.35},{"x":29.8,"y":4.45},{"x":35.4,"y":3.9},{"x":18.3,"y":3.5},{"x":19.8,"y":3.12},{"x":28.6,"y":3.3},{"x":28.6,"y":3.1},{"x":33,"y":3.4},{"x":35.4,"y":3.4},{"x":35.4,"y":3.3},{"x":33,"y":2.95},{"x":26.5,"y":2.5},{"x":22.7,"y":2.42},{"x":24,"y":2.42},{"x":24,"y":2.33},{"x":35.4,"y":2.5},{"x":35.4,"y":2.33},{"x":37,"y":2.18},{"x":17.8,"y":2.11},{"x":26.5,"y":2.03},{"x":26.5,"y":1.93},{"x":38,"y":1.77},{"x":33,"y":1.73},{"x":19.6,"y":1.7},{"x":22.7,"y":1.66},{"x":62,"y":1.83},{"x":28.6,"y":1.29},{"x":30.6,"y":1.22},{"x":35.4,"y":1.2},{"x":41,"y":1.29},{"x":48.2,"y":1.34},{"x":19.3,"y":1.2},{"x":55.5,"y":1.14},{"x":22.3,"y":29.3},{"x":34.5,"y":12.2},
{"x":1.19,"y":1510},{"x":1.19,"y":1420},{"x":1.27,"y":1150},{"x":1.56,"y":1440},{"x":1.75,"y":1390},{"x":1.7,"y":1280},{"x":1.56,"y":1170},{"x":1.65,"y":1050},{"x":1.79,"y":1015},{"x":1.7,"y":820},{"x":1.4,"y":900},{"x":1.07,"y":905},{"x":1.02,"y":1030},{"x":1.02,"y":790},{"x":1.13,"y":770},{"x":1.26,"y":620},{"x":1.33,"y":590},{"x":1.02,"y":510},{"x":1.09,"y":390},{"x":1.02,"y":330},{"x":1.1,"y":290},{"x":1.05,"y":260},{"x":1.02,"y":250},{"x":1.18,"y":240},{"x":1.47,"y":340},{"x":1.52,"y":370},{"x":1.46,"y":480},{"x":1.69,"y":330},{"x":1.88,"y":335},{"x":1.9,"y":465},{"x":2.04,"y":410},{"x":2.4,"y":400},{"x":2.6,"y":520},{"x":2.1,"y":700},{"x":2.12,"y":900},{"x":2.2,"y":915},{"x":2.42,"y":1080},{"x":2.56,"y":970},{"x":2.62,"y":1510},{"x":2.82,"y":1390},{"x":2.88,"y":1080},{"x":3.13,"y":1180},{"x":3.05,"y":1010},{"x":2.95,"y":885},{"x":3.49,"y":940},{"x":4.05,"y":1040},{"x":4.32,"y":880},{"x":3.92,"y":860},{"x":4.87,"y":785},{"x":5,"y":650},{"x":5.35,"y":730},{"x":3.49,"y":480},{"x":3.63,"y":430},{"x":3.77,"y":415},{"x":5.05,"y":430},{"x":5.25,"y":400},{"x":3.95,"y":550},{"x":2.93,"y":370},{"x":3.22,"y":355},{"x":3.35,"y":378},{"x":3.75,"y":350},{"x":4.25,"y":350},{"x":3.9,"y":315},{"x":4.32,"y":308},{"x":4.32,"y":280},{"x":2.74,"y":310},{"x":2.74,"y":280},{"x":2.6,"y":320},{"x":3.13,"y":290},{"x":2.42,"y":262},{"x":1.75,"y":270},{"x":1.85,"y":260},{"x":1.58,"y":245},{"x":1.37,"y":250},{"x":1.8,"y":225},{"x":2.6,"y":217},{"x":3.25,"y":225},{"x":2.2,"y":190},{"x":1.65,"y":176},{"x":1.27,"y":173},{"x":2.37,"y":168},{"x":1.75,"y":151},{"x":2.04,"y":148},{"x":3.9,"y":192},{"x":2.04,"y":1924},{"x":1.19,"y":2080}
],
"gates":[{"g":"a","i":0,"x":9.95,"y":1},{"g":"a","i":1,"x":9.95,"y":10000},{"g":"b","i":0,"x":1,"y":9.75},{"g":"b","i":1,"x":9700,"y":9.75}],
"axisLines":[{"g":"a","i":0,"x":1,"y":1},{"g":"a","i":1,"x":1,"y":10000},{"g":"b","i":0,"x":1,"y":1},{"g":"b","i":1,"x":10000,"y":1}],
"ellipses":[
{"g":"T","i":0,"x":6.69,"y":499.6},{"g":"T","i":1,"x":6.205,"y":1068},{"g":"T","i":2,"x":5,"y":2029},{"g":"T","i":3,"x":3.626,"y":3120},{"g":"T","i":4,"x":2.48,"y":3625},{"g":"T","i":5,"x":1.696,"y":3120},{"g":"T","i":6,"x":1.229,"y":2029},{"g":"T","i":7,"x":0.9912,"y":1068},{"g":"T","i":8,"x":0.919,"y":499.6},{"g":"T","i":9,"x":0.9912,"y":233.9},{"g":"T","i":10,"x":1.229,"y":123.1},{"g":"T","i":11,"x":1.696,"y":80},{"g":"T","i":12,"x":2.48,"y":68.9},{"g":"T","i":13,"x":3.626,"y":80},{"g":"T","i":14,"x":5,"y":123.1},{"g":"T","i":15,"x":6.205,"y":233.9},
{"g":"N","i":0,"x":93,"y":3.23},{"g":"N","i":1,"x":86.2,"y":4.9},{"g":"N","i":2,"x":69.2,"y":6.97},{"g":"N","i":3,"x":49.9,"y":8.84},{"g":"N","i":4,"x":33.9,"y":9.6},{"g":"N","i":5,"x":23.07,"y":8.84},{"g":"N","i":6,"x":16.63,"y":6.97},{"g":"N","i":7,"x":13.35,"y":4.9},{"g":"N","i":8,"x":12.37,"y":3.23},{"g":"N","i":9,"x":13.35,"y":2.13},{"g":"N","i":10,"x":16.63,"y":1.49},{"g":"N","i":11,"x":23.07,"y":1.18},{"g":"N","i":12,"x":33.9,"y":1.085},{"g":"N","i":13,"x":49.9,"y":1.18},{"g":"N","i":14,"x":69.2,"y":1.49},{"g":"N","i":15,"x":86.2,"y":2.13},
{"g":"P","i":0,"x":184.2,"y":297.2},{"g":"P","i":1,"x":165.5,"y":696.6},{"g":"P","i":2,"x":122.1,"y":1263},{"g":"P","i":3,"x":77.5,"y":1613},{"g":"P","i":4,"x":45.3,"y":1407},{"g":"P","i":5,"x":26.5,"y":850.5},{"g":"P","i":6,"x":16.8,"y":385.8},{"g":"P","i":7,"x":12.4,"y":147.9},{"g":"P","i":8,"x":11.14,"y":55.6},{"g":"P","i":9,"x":12.4,"y":23.7},{"g":"P","i":10,"x":16.8,"y":13.1},{"g":"P","i":11,"x":26.5,"y":10.2},{"g":"P","i":12,"x":45.3,"y":11.7},{"g":"P","i":13,"x":77.5,"y":19.4},{"g":"P","i":14,"x":122.1,"y":42.8},{"g":"P","i":15,"x":165.5,"y":111.6}
],
"leaders":[{"g":"T","i":0,"x":0.2698,"y":1585},{"g":"T","i":1,"x":0.8937,"y":692.8},{"g":"P","i":0,"x":69.4,"y":27570},{"g":"P","i":1,"x":74.3,"y":1700},{"g":"N","i":0,"x":95.3,"y":3.44},{"g":"N","i":1,"x":414.8,"y":2.89}],
"brownBoxes":[{"x":0.0425,"x2":0.556,"y":1557,"y2":5680},{"x":423,"x2":28430,"y":1.67,"y2":6.09}],
"blackBoxes":[{"x":20.86,"x2":2720,"y":19670,"y2":113700}],
"labels":[{"t":"T sejtek","x":0.1525,"y":2121},{"t":"CD5+ B sejtek","x":241.5,"y":33620},{"t":"CD5- B sejtek","x":3462,"y":2.26}]
},
"encoding":{
"x":{"field":"x","type":"quantitative","scale":{"type":"log","domain":[1,10000],"nice":false,"zero":false},"axis":null},
"y":{"field":"y","type":"quantitative","scale":{"type":"log","domain":[1,10000],"nice":false,"zero":false},"axis":null}
},
"resolve":{"axis":{"x":"independent","y":"independent"}},
"layer":[
{"data":{"name":"red"},"mark":{"type":"square","size":49,"color":"#ff0000","opacity":1,"strokeWidth":0},
"encoding":{
"x":{"field":"x","type":"quantitative","scale":{"type":"log","domain":[1,10000],"nice":false,"zero":false},"axis":{"orient":"bottom","values":[1,2,3,4,5,6,7,8,9,10,20,30,40,50,60,70,80,90,100,200,300,400,500,600,700,800,900,1000,2000,3000,4000,5000,6000,7000,8000,9000,10000],"grid":false,"domain":false,"tickColor":"#777777","tickWidth":2,"tickSize":9,"labelExpr":"datum.value==1?'0':datum.value==10?'1':datum.value==100?'2':datum.value==1000?'3':datum.value==10000?'4':''","labelFontSize":20,"labelColor":"#553a70","labelPadding":27,"labelBaseline":"middle","labelAngle":0,"labelAlign":"center","labelOverlap":false,"labelBound":false,"labelFlush":false,"title":null}},
"y":{"field":"y","type":"quantitative","scale":{"type":"log","domain":[1,10000],"nice":false,"zero":false},"axis":{"orient":"left","values":[1,2,3,4,5,6,7,8,9,10,20,30,40,50,60,70,80,90,100,200,300,400,500,600,700,800,900,1000,2000,3000,4000,5000,6000,7000,8000,9000,10000],"grid":false,"domain":false,"tickColor":"#777777","tickWidth":2,"tickSize":9,"labelExpr":"datum.value==1?'0':datum.value==10?'1':datum.value==100?'2':datum.value==1000?'3':datum.value==10000?'4':''","labelFontSize":18,"labelColor":"#553a70","labelPadding":11,"labelBaseline":"middle","labelAlign":"right","labelOffset":-3,"labelOverlap":false,"labelBound":false,"labelFlush":false,"title":null}}
}},
{"data":{"name":"black"},"mark":{"type":"square","size":36,"color":"#000000","opacity":1,"strokeWidth":0},
"encoding":{
"x":{"field":"x","type":"quantitative","scale":{"type":"log","domain":[1,10000],"nice":false,"zero":false},"axis":{"orient":"bottom","values":[1,10,100,1000,10000],"grid":false,"domain":false,"tickColor":"#777777","tickWidth":2,"tickSize":14,"labelExpr":"'10'","labelFontSize":31,"labelColor":"#553a70","labelPadding":41,"labelBaseline":"middle","labelAngle":0,"labelAlign":"center","labelOffset":-16,"labelOverlap":false,"labelBound":false,"labelFlush":false,"title":"CD19 FITC","titleFont":"Liberation Sans","titleFontSize":74,"titleFontWeight":"bold","titleColor":"#000000","titleX":623.5,"titleY":139,"titleBaseline":"alphabetic","titleAlign":"center","titleAnchor":null}},
"y":{"field":"y","type":"quantitative","scale":{"type":"log","domain":[1,10000],"nice":false,"zero":false},"axis":{"orient":"left","values":[1,10,100,1000,10000],"grid":false,"domain":false,"tickColor":"#777777","tickWidth":2,"tickSize":14,"labelExpr":"'10'","labelFontSize":31,"labelColor":"#553a70","labelPadding":24,"labelBaseline":"middle","labelAlign":"right","labelOffset":13,"labelOverlap":false,"labelBound":false,"labelFlush":false,"title":"CD5 PE","titleFont":"Liberation Sans","titleFontSize":74,"titleFontWeight":"bold","titleColor":"#000000","titleAngle":-90,"titleX":-112,"titleY":398,"titleBaseline":"alphabetic","titleAlign":"center","titleAnchor":null}}
}},
{"data":{"name":"gates"},"mark":{"type":"line","color":"#000000","strokeWidth":2.5,"clip":false},"encoding":{"detail":{"field":"g"},"order":{"field":"i","type":"quantitative"}}},
{"data":{"name":"axisLines"},"mark":{"type":"line","color":"#000000","strokeWidth":6,"clip":false},"encoding":{"detail":{"field":"g"},"order":{"field":"i","type":"quantitative"}}},
{"data":{"name":"leaders"},"mark":{"type":"line","color":"#784505","strokeWidth":6,"clip":false},"encoding":{"detail":{"field":"g"},"order":{"field":"i","type":"quantitative"}}},
{"data":{"name":"ellipses"},"mark":{"type":"line","color":"#784505","strokeWidth":8,"interpolate":"cardinal-closed","clip":false},"encoding":{"detail":{"field":"g"},"order":{"field":"i","type":"quantitative"}}},
{"data":{"name":"brownBoxes"},"mark":{"type":"rect","fill":"#ffffff","stroke":"#8a5312","strokeWidth":1.5,"clip":false},"encoding":{"x2":{"field":"x2"},"y2":{"field":"y2"}}},
{"data":{"name":"blackBoxes"},"mark":{"type":"rect","fill":"#ffffff","stroke":"#000000","strokeWidth":1.5,"clip":false},"encoding":{"x2":{"field":"x2"},"y2":{"field":"y2"}}},
{"data":{"name":"labels"},"mark":{"type":"text","font":"Liberation Sans","fontSize":75,"fontWeight":"bold","color":"#000000","align":"center","baseline":"alphabetic","clip":false},"encoding":{"text":{"field":"t"}}}
]}
